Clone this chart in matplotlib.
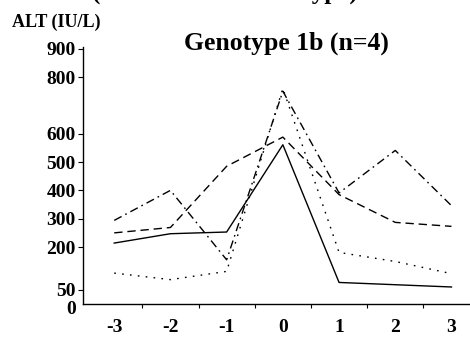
import matplotlib
matplotlib.use("Agg")
import matplotlib.pyplot as plt
import matplotlib.transforms as mtransforms

# months relative to ALT peak
months = [-3, -2, -1, 0, 1, 2, 3]

# ALT (IU/L) for the four genotype 1b patients
pt_solid = [214, 247, 253, 561, 75, 67, 59]
pt_dashed = [250, 269, 485, 588, 385, 287, 273]
pt_dashdot = [294, 400, 155, 750, 391, 541, 346]
pt_dotted = [108, 85, 114, 760, 181, 149, 106]

ytick_vals = [0, 50, 200, 300, 400, 500, 600, 800, 900]

plt.rcParams['font.family'] = ['Liberation Serif', 'DejaVu Serif']
plt.rcParams['font.weight'] = 'bold'

fig = plt.figure(figsize=(4.7, 3.4), dpi=100)
W, H = 470.0, 340.0
# axes placed in pixel terms; right edge runs off the figure like the scan
ax = fig.add_axes([83.3 / W, 36.3 / H, (482.4 - 83.3) / W, 256.4 / H])

lw = 1.0
ax.plot(months, pt_solid, color='black', lw=lw, linestyle='-')
ax.plot(months, pt_dashed, color='black', lw=lw, linestyle=(0, (6, 3.5)))
ax.plot(months, pt_dashdot, color='black', lw=lw, linestyle=(0, (6, 3, 1.2, 3)))
ax.plot(months, pt_dotted, color='black', lw=lw, linestyle=(0, (1.2, 4.5)))

ax.set_xlim(-3.55, 3.55)
ax.set_ylim(0, 905)

ax.spines['top'].set_visible(False)
ax.spines['right'].set_visible(False)
ax.spines['left'].set_linewidth(1.0)
ax.spines['bottom'].set_linewidth(1.0)

ax.set_xticks(months)
ax.set_xticklabels([str(m) for m in months])
ax.set_xticks([m + 0.5 for m in months[:-1]], minor=True)
ax.tick_params(axis='x', which='major', length=0, pad=11, labelsize=14)
ax.tick_params(axis='x', which='minor', length=3, direction='out', width=0.8)

ax.set_yticks(ytick_vals)
ax.set_yticklabels([str(v) for v in ytick_vals])
ax.tick_params(axis='y', length=3.5, width=0.8, pad=2, labelsize=14)
ax.yaxis.get_major_ticks()[0].tick1line.set_visible(False)
for lab in ax.get_xticklabels() + ax.get_yticklabels():
    lab.set_fontweight('bold')
# the "0" label sits a little lower than its tick in the original
zero_lab = ax.get_yticklabels()[0]
zero_lab.set_transform(zero_lab.get_transform() +
                       mtransforms.ScaledTranslation(0, -4 / 100, fig.dpi_scale_trans))

fig.text(12 / W, 1 - 22 / H, 'ALT (IU/L)', fontsize=13, fontweight='bold',
         ha='left', va='center')
fig.text(286 / W, 1 - 43 / H, 'Genotype 1b (n=4)', fontsize=18.5,
         fontweight='bold', ha='center', va='center')
# cut-off line at the very top of the scan
fig.text(92 / W, 1 + 1.5 / H, '(Classified as to subtype)', fontsize=18,
         fontweight='bold', ha='left', va='baseline')

fig.savefig('out.png', dpi=100)
